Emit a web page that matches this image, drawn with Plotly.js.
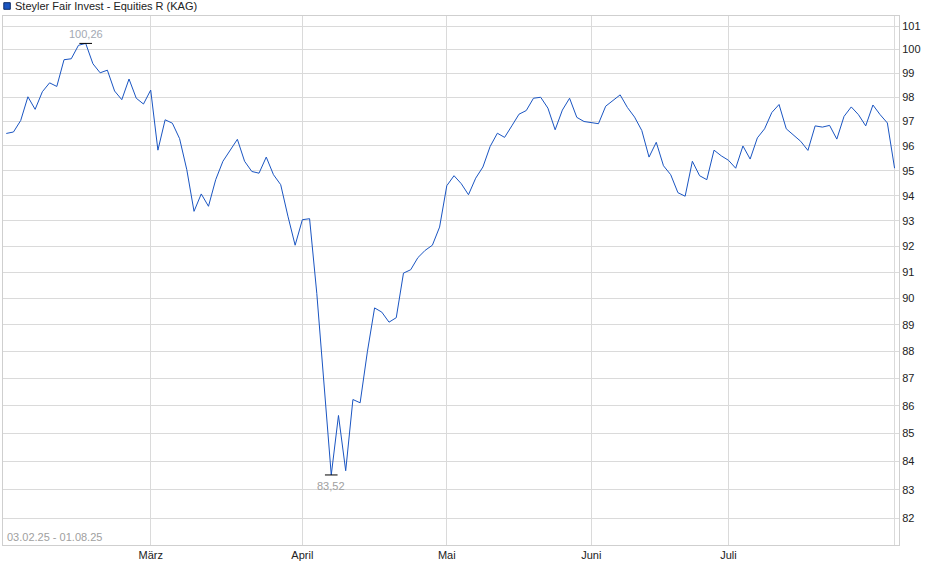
<!DOCTYPE html>
<html>
<head>
<meta charset="utf-8">
<script src="https://cdn.plot.ly/plotly-3.0.1.min.js"></script>
<style>html,body{margin:0;padding:0;background:#fff;}#chart{width:940px;height:579px;}</style>
</head>
<body>
<div id="chart"></div>
<script>
const seriesName = 'Steyler Fair Invest - Equities R (KAG)';
const periodLabel = '03.02.25 - 01.08.25';

const dates = [
  '2025-02-03','2025-02-04','2025-02-05','2025-02-06','2025-02-07','2025-02-10','2025-02-11','2025-02-12','2025-02-13','2025-02-14',
  '2025-02-17','2025-02-18','2025-02-19','2025-02-20','2025-02-21','2025-02-24','2025-02-25','2025-02-26','2025-02-27','2025-02-28',
  '2025-03-03','2025-03-04','2025-03-05','2025-03-06','2025-03-07','2025-03-10','2025-03-11','2025-03-12','2025-03-13','2025-03-14',
  '2025-03-17','2025-03-18','2025-03-19','2025-03-20','2025-03-21','2025-03-24','2025-03-25','2025-03-26','2025-03-27','2025-03-28','2025-03-31',
  '2025-04-01','2025-04-02','2025-04-03','2025-04-04','2025-04-07','2025-04-08','2025-04-09','2025-04-10','2025-04-11','2025-04-14',
  '2025-04-15','2025-04-16','2025-04-17','2025-04-22','2025-04-23','2025-04-24','2025-04-25','2025-04-28','2025-04-29','2025-04-30',
  '2025-05-02','2025-05-05','2025-05-06','2025-05-07','2025-05-08','2025-05-09','2025-05-12','2025-05-13','2025-05-14','2025-05-15',
  '2025-05-16','2025-05-19','2025-05-20','2025-05-21','2025-05-22','2025-05-23','2025-05-26','2025-05-27','2025-05-28','2025-05-30',
  '2025-06-02','2025-06-03','2025-06-04','2025-06-05','2025-06-06','2025-06-10','2025-06-11','2025-06-12','2025-06-13','2025-06-16',
  '2025-06-17','2025-06-18','2025-06-20','2025-06-23','2025-06-24','2025-06-25','2025-06-26','2025-06-27','2025-06-30',
  '2025-07-01','2025-07-02','2025-07-03','2025-07-04','2025-07-07','2025-07-08','2025-07-09','2025-07-10','2025-07-11','2025-07-14',
  '2025-07-15','2025-07-16','2025-07-17','2025-07-18','2025-07-21','2025-07-22','2025-07-23','2025-07-24','2025-07-25','2025-07-28',
  '2025-07-29','2025-07-30','2025-07-31','2025-08-01'
];

const values = [
  96.51, 96.57, 97.04, 98.02, 97.50, 98.23, 98.60, 98.45, 99.57, 99.61,
  100.18, 100.26, 99.40, 99.02, 99.13, 98.26, 97.90, 98.76, 97.96, 97.72,
  98.30, 95.83, 97.07, 96.93, 96.30, 95.04, 93.38, 94.07, 93.58, 94.64,
  95.38, 95.85, 96.27, 95.38, 94.97, 94.90, 95.55, 94.84, 94.44, 93.19, 92.05,
  93.05, 93.09, 90.19, 86.69, 83.52, 85.65, 83.67, 86.23, 86.11, 87.99,
  89.64, 89.48, 89.10, 89.27, 90.97, 91.10, 91.57, 91.85, 92.05, 92.76,
  94.40, 94.80, 94.48, 94.04, 94.70, 95.15, 95.98, 96.52, 96.35, 96.82,
  97.30, 97.45, 97.96, 98.00, 97.55, 96.66, 97.47, 97.96, 97.17, 97.00,
  96.94, 96.91, 97.63, 97.86, 98.10, 97.58, 97.18, 96.63, 95.55, 96.15,
  95.20, 94.84, 94.12, 93.98, 95.38, 94.80, 94.64, 95.83, 95.60,
  95.42, 95.10, 96.00, 95.47, 96.33, 96.70, 97.37, 97.70, 96.70, 96.46,
  96.19, 95.82, 96.82, 96.77, 96.84, 96.28, 97.21, 97.60, 97.28, 96.82,
  97.68, 97.28, 96.94, 95.10
];

const monthTickDates = ['2025-03-03','2025-04-01','2025-05-02','2025-06-02','2025-07-01','2025-08-01'];
const monthTickLabels = ['März','April','Mai','Juni','Juli',''];
const yTickValues = [82,83,84,85,86,87,88,89,90,91,92,93,94,95,96,97,98,99,100,101];

const lineColor = '#1a55c2';
const gridColor = '#dadada';
const fontFamily = '"Liberation Sans", Arial, sans-serif';

let iMax = 0, iMin = 0;
values.forEach((v, i) => { if (v > values[iMax]) iMax = i; if (v < values[iMin]) iMin = i; });
const fmt = v => v.toFixed(2).replace('.', ',');

const traces = [
  {
    x: dates, y: values, type: 'scatter', mode: 'lines',
    line: {color: lineColor, width: 1},
    showlegend: false, hoverinfo: 'skip'
  },
  {
    x: [dates[iMax], dates[iMin]], y: [values[iMax], values[iMin]],
    type: 'scatter', mode: 'markers',
    marker: {symbol: 'line-ew', size: 9, color: '#000', line: {width: 1, color: '#000'}},
    showlegend: false, hoverinfo: 'skip'
  }
];

const layout = {
  width: 940, height: 579,
  margin: {l: 3, r: 41, t: 16, b: 34, pad: 0},
  paper_bgcolor: '#fff', plot_bgcolor: '#fff',
  font: {family: fontFamily, size: 11, color: '#222'},
  showlegend: false,
  xaxis: {
    type: 'category',
    range: [-0.45, 123.61],
    tickmode: 'array', tickvals: monthTickDates, ticktext: monthTickLabels,
    showgrid: true, gridcolor: gridColor, gridwidth: 1,
    showline: true, linecolor: '#cfcfcf', linewidth: 1, mirror: true,
    ticks: '', zeroline: false,
    tickfont: {family: fontFamily, size: 11, color: '#222'}
  },
  yaxis: {
    type: 'log', side: 'right',
    range: [Math.log10(81.08), Math.log10(101.43)],
    tickmode: 'array', tickvals: yTickValues, ticktext: yTickValues.map(String),
    showgrid: true, gridcolor: gridColor, gridwidth: 1,
    showline: true, linecolor: '#cfcfcf', linewidth: 1, mirror: true,
    ticks: '', zeroline: false,
    tickfont: {family: fontFamily, size: 11, color: '#222'}
  },
  shapes: [
    {
      type: 'rect', xref: 'paper', yref: 'paper',
      xsizemode: 'pixel', ysizemode: 'pixel', xanchor: 0, yanchor: 1,
      x0: 0.8, x1: 7.3, y0: 6.7, y1: 13.3,
      fillcolor: lineColor, line: {color: '#0d2b66', width: 1}
    }
  ],
  annotations: [
    {
      xref: 'paper', yref: 'paper', x: 0, y: 1, xanchor: 'left', yanchor: 'middle',
      xshift: 10, yshift: 10, showarrow: false, text: seriesName,
      font: {family: fontFamily, size: 11, color: '#222'}
    },
    {
      xref: 'paper', yref: 'paper', x: 0, y: 0, xanchor: 'left', yanchor: 'bottom',
      xshift: 2, yshift: 0, showarrow: false, text: periodLabel,
      font: {family: fontFamily, size: 11, color: '#a0a0a0'}
    },
    {
      x: dates[iMax], y: Math.log10(values[iMax]), xref: 'x', yref: 'y',
      yshift: 9, showarrow: false, text: fmt(values[iMax]),
      font: {family: fontFamily, size: 11, color: '#a3a9b3'}
    },
    {
      x: dates[iMin], y: Math.log10(values[iMin]), xref: 'x', yref: 'y',
      yshift: -11, showarrow: false, text: fmt(values[iMin]),
      font: {family: fontFamily, size: 11, color: '#a0a0a0'}
    }
  ]
};

Plotly.newPlot('chart', traces, layout, {displayModeBar: false, staticPlot: true});
</script>
</body>
</html>
